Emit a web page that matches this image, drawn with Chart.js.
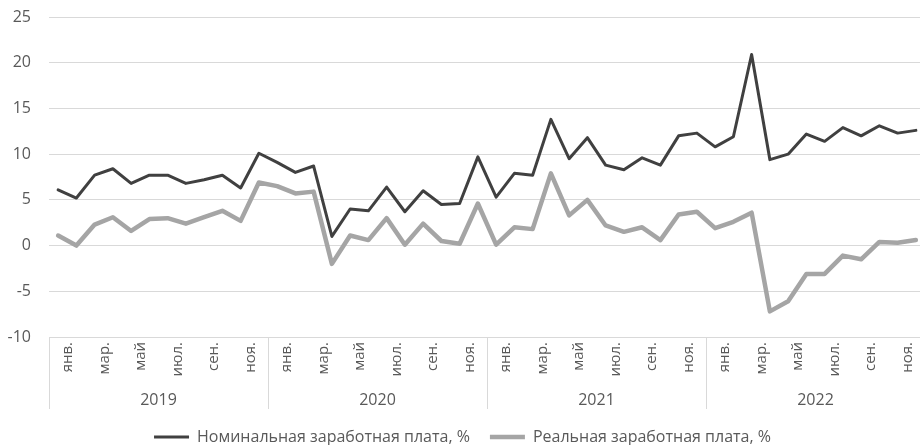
<!DOCTYPE html>
<html>
<head>
<meta charset="utf-8">
<script src="https://cdn.jsdelivr.net/npm/chart.js@4.4.1/dist/chart.umd.min.js"></script>
<style>
  html, body { margin: 0; padding: 0; background: #fff; overflow: hidden; }
  #wrap { position: relative; width: 926px; height: 445px; }
</style>
</head>
<body>
<div id="wrap"><canvas id="c"></canvas></div>
<script>
// ---- Data ----
const years = ['2019', '2020', '2021', '2022'];
const monthNames = ['янв.', 'фев.', 'мар.', 'апр.', 'май', 'июн.', 'июл.', 'авг.', 'сен.', 'окт.', 'ноя.', 'дек.'];
const shownMonths = ['янв.', 'мар.', 'май', 'июл.', 'сен.', 'ноя.'];

const nominalWage = [
  6.1, 5.2, 7.7, 8.4, 6.8, 7.7, 7.7, 6.8, 7.2, 7.7, 6.3, 10.1,
  9.1, 8.0, 8.7, 1.0, 4.0, 3.8, 6.4, 3.7, 6.0, 4.5, 4.6, 9.7,
  5.3, 7.9, 7.7, 13.8, 9.5, 11.8, 8.8, 8.3, 9.6, 8.8, 12.0, 12.3,
  10.8, 11.9, 20.9, 9.4, 10.0, 12.2, 11.4, 12.9, 12.0, 13.1, 12.3, 12.6
];
const realWage = [
  1.1, 0.0, 2.3, 3.1, 1.6, 2.9, 3.0, 2.4, 3.1, 3.8, 2.7, 6.9,
  6.5, 5.7, 5.9, -2.0, 1.1, 0.6, 3.0, 0.1, 2.4, 0.5, 0.2, 4.6,
  0.1, 2.0, 1.8, 7.9, 3.3, 5.0, 2.2, 1.5, 2.0, 0.6, 3.4, 3.7,
  1.9, 2.6, 3.6, -7.2, -6.1, -3.1, -3.1, -1.1, -1.5, 0.4, 0.3, 0.6
];
const seriesNames = ['Номинальная заработная плата, %', 'Реальная заработная плата, %'];
const yTicks = { min: -10, max: 25, step: 5 };

// ---- Build ----
const monthLabels = [];
years.forEach(y => monthNames.forEach(m => monthLabels.push(m)));

const FONT = "'Open Sans', 'Noto Sans', sans-serif";
const TEXT = '#595959';
const GRID = '#d9d9d9';

const separators = {
  id: 'separators',
  afterDraw(chart) {
    const xs = chart.scales.x, x2 = chart.scales.x2;
    const ctx = chart.ctx;
    ctx.save();
    ctx.strokeStyle = GRID;
    ctx.lineWidth = 1;
    for (let i = 0; i <= years.length; i++) {
      const px = Math.round(xs.getPixelForValue(i * 12 - 0.5)) + 0.5;
      ctx.beginPath();
      ctx.moveTo(px, xs.top);
      ctx.lineTo(px, x2.bottom);
      ctx.stroke();
    }
    ctx.restore();
  }
};

new Chart(document.getElementById('c'), {
  type: 'line',
  data: {
    labels: monthLabels,
    datasets: [
      {
        label: seriesNames[0],
        data: nominalWage,
        borderColor: '#404040',
        backgroundColor: '#404040',
        borderWidth: 3,
        pointRadius: 0,
        tension: 0,
        borderJoinStyle: 'round',
        borderCapStyle: 'round',
        xAxisID: 'x'
      },
      {
        label: seriesNames[1],
        data: realWage,
        borderColor: '#a5a5a5',
        backgroundColor: '#a5a5a5',
        borderWidth: 4.5,
        pointRadius: 0,
        tension: 0,
        borderJoinStyle: 'round',
        borderCapStyle: 'round',
        xAxisID: 'x'
      }
    ]
  },
  options: {
    responsive: true,
    maintainAspectRatio: false,
    animation: false,
    layout: { padding: { top: 17, right: 1, left: 0, bottom: 0 } },
    plugins: {
      legend: {
        position: 'bottom',
        maxHeight: 36,
        labels: {
          usePointStyle: true,
          pointStyle: 'line',
          pointStyleWidth: 35,
          color: TEXT,
          padding: 20,
          font: { family: FONT, size: 16 }
        }
      },
      tooltip: { enabled: false }
    },
    scales: {
      x: {
        type: 'category',
        position: 'bottom',
        offset: true,
        border: { display: false },
        grid: { display: false, drawOnChartArea: false, drawTicks: false },
        ticks: {
          autoSkip: false,
          minRotation: 90,
          maxRotation: 90,
          padding: 5,
          labelOffset: 10,
          color: TEXT,
          font: { family: FONT, size: 15 },
          callback: function (v, i) {
            const m = monthLabels[i];
            return shownMonths.includes(m) ? m : '';
          }
        },
        afterFit: s => { s.height = 48; s.paddingLeft = 0; s.paddingRight = 0; }
      },
      x2: {
        type: 'category',
        position: 'bottom',
        labels: years,
        offset: true,
        border: { display: false },
        grid: { display: false, drawTicks: false },
        ticks: {
          padding: 6,
          color: TEXT,
          font: { family: FONT, size: 16 }
        },
        afterFit: s => { s.height = 24; s.paddingLeft = 0; s.paddingRight = 0; }
      },
      y: {
        min: yTicks.min,
        max: yTicks.max,
        border: { display: false },
        grid: { color: GRID, lineWidth: 1, drawTicks: false },
        ticks: {
          stepSize: yTicks.step,
          padding: 18,
          color: TEXT,
          font: { family: FONT, size: 16 }
        },
        afterFit: s => { s.width = 49; s.paddingTop = 0; s.paddingBottom = 0; }
      }
    }
  },
  plugins: [separators]
});
</script>
</body>
</html>
